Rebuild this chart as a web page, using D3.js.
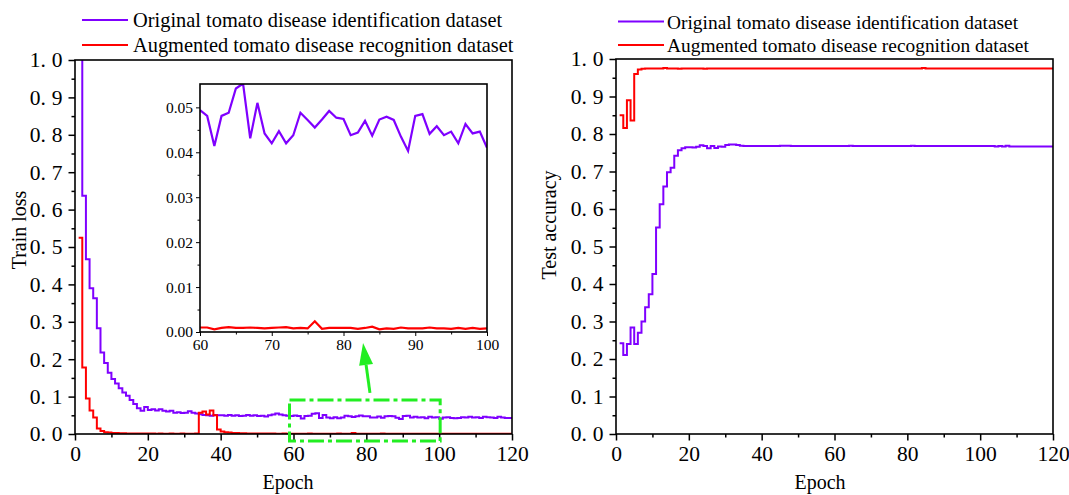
<!DOCTYPE html>
<html><head><meta charset="utf-8">
<script src="https://cdn.jsdelivr.net/npm/d3@7"></script>
<style>
body{margin:0;background:#fff}
svg{display:block}
text{font-family:"Liberation Serif","Times New Roman",serif;fill:#000}
</style>
</head><body>
<svg id="c" width="1069" height="495"></svg>
<script>
// ---------------- data ----------------
const epochs = d3.range(1, 121);

const seriesNames = ["Original tomato disease identification dataset", "Augmented tomato disease recognition dataset"];

const lossOriginal = [
  1.2, 0.637, 0.467, 0.39, 0.363, 0.283, 0.218, 0.19, 0.164, 0.147, 0.135, 0.122, 0.111, 0.102, 0.091, 0.080, 0.069, 0.062, 0.072, 0.064,
  0.066, 0.063, 0.066, 0.062, 0.060, 0.062, 0.057, 0.058, 0.056, 0.057, 0.061, 0.057, 0.055, 0.053, 0.051, 0.050, 0.049, 0.051, 0.050, 0.050,
  0.049, 0.051, 0.049, 0.050, 0.048, 0.049, 0.051, 0.049, 0.050, 0.048, 0.049, 0.047, 0.050, 0.052, 0.055, 0.052, 0.050, 0.049, 0.048, 0.0494,
  0.0481, 0.0414, 0.0481, 0.0488, 0.0542, 0.0553, 0.0431, 0.0510, 0.0442, 0.0420, 0.0447, 0.0420, 0.0438, 0.0488, 0.0472, 0.0455, 0.0473, 0.0492, 0.0477, 0.0474,
  0.0438, 0.0444, 0.0470, 0.0437, 0.0473, 0.0479, 0.0472, 0.0435, 0.0403, 0.0481, 0.0485, 0.0441, 0.0458, 0.0438, 0.0446, 0.0420, 0.0463, 0.0442, 0.0446, 0.0410,
  0.044, 0.045, 0.043, 0.042, 0.043, 0.045, 0.044, 0.046, 0.044, 0.045, 0.043, 0.046, 0.045, 0.044, 0.043, 0.046, 0.044, 0.043, 0.043, 0.042
];

const lossAugmented = [
  0.525, 0.178, 0.095, 0.063, 0.044, 0.015, 0.008, 0.005, 0.004, 0.003, 0.0025, 0.002, 0.0018, 0.0016, 0.0015, 0.0014, 0.0013, 0.0012, 0.0012, 0.0011,
  0.0011, 0.0010, 0.0011, 0.0010, 0.0010, 0.0011, 0.0010, 0.0010, 0.0011, 0.0010, 0.0010, 0.0010, 0.0011, 0.057, 0.060, 0.052, 0.063, 0.050, 0.012, 0.007,
  0.005, 0.004, 0.003, 0.0025, 0.002, 0.0018, 0.0016, 0.0015, 0.0014, 0.0013, 0.0012, 0.0012, 0.0011, 0.0011, 0.0010, 0.0010, 0.0011, 0.0010, 0.0010, 0.0010,
  0.0010, 0.0006, 0.0009, 0.0011, 0.0009, 0.0009, 0.0010, 0.0009, 0.0008, 0.0009, 0.0010, 0.0011, 0.0008, 0.0009, 0.0008, 0.0024, 0.0007, 0.0009, 0.0009, 0.0009,
  0.0009, 0.0007, 0.0009, 0.0012, 0.0006, 0.0008, 0.0007, 0.0010, 0.0008, 0.0008, 0.0008, 0.0010, 0.0008, 0.0008, 0.0007, 0.0009, 0.0007, 0.0009, 0.0007, 0.0008,
  0.0008, 0.0008, 0.0007, 0.0008, 0.0008, 0.0007, 0.0008, 0.0008, 0.0008, 0.0007, 0.0008, 0.0008, 0.0007, 0.0008, 0.0008, 0.0008, 0.0007, 0.0008, 0.0008, 0.0008
];

const accOriginal = [
  0.242, 0.211, 0.240, 0.284, 0.240, 0.270, 0.300, 0.338, 0.373, 0.427, 0.551, 0.613, 0.660, 0.698, 0.710, 0.742, 0.757, 0.762, 0.765, 0.765,
  0.764, 0.766, 0.770, 0.768, 0.762, 0.768, 0.763, 0.767, 0.766, 0.771, 0.772, 0.772, 0.771, 0.769, 0.768, 0.768, 0.768, 0.768, 0.768, 0.768,
  0.768, 0.768, 0.768, 0.768, 0.769, 0.769, 0.769, 0.768, 0.768, 0.768, 0.768, 0.768, 0.768, 0.768, 0.768, 0.768, 0.768, 0.768, 0.768, 0.768,
  0.768, 0.768, 0.768, 0.769, 0.768, 0.768, 0.768, 0.768, 0.768, 0.768, 0.768, 0.768, 0.768, 0.768, 0.768, 0.768, 0.768, 0.768, 0.768, 0.768,
  0.769, 0.768, 0.768, 0.768, 0.768, 0.768, 0.768, 0.768, 0.768, 0.768, 0.768, 0.768, 0.768, 0.768, 0.768, 0.768, 0.768, 0.768, 0.768, 0.768,
  0.768, 0.768, 0.768, 0.767, 0.768, 0.767, 0.769, 0.767, 0.767, 0.767, 0.767, 0.767, 0.767, 0.767, 0.767, 0.767, 0.767, 0.767, 0.767, 0.767
];

const accAugmented = [
  0.850, 0.816, 0.890, 0.836, 0.960, 0.972, 0.974, 0.975, 0.975, 0.975, 0.975, 0.975, 0.976, 0.975, 0.975, 0.975, 0.974, 0.975, 0.975, 0.975,
  0.975, 0.975, 0.975, 0.974, 0.975, 0.975, 0.975, 0.975, 0.975, 0.975, 0.975, 0.975, 0.975, 0.975, 0.975, 0.975, 0.975, 0.975, 0.975, 0.975,
  0.975, 0.975, 0.975, 0.975, 0.975, 0.975, 0.975, 0.975, 0.975, 0.975, 0.975, 0.975, 0.975, 0.975, 0.975, 0.975, 0.975, 0.975, 0.975, 0.975,
  0.975, 0.975, 0.975, 0.975, 0.975, 0.975, 0.975, 0.975, 0.975, 0.975, 0.975, 0.975, 0.975, 0.975, 0.975, 0.975, 0.975, 0.975, 0.975, 0.975,
  0.975, 0.975, 0.975, 0.976, 0.975, 0.975, 0.975, 0.975, 0.975, 0.975, 0.975, 0.975, 0.975, 0.975, 0.975, 0.975, 0.975, 0.975, 0.975, 0.975,
  0.975, 0.975, 0.975, 0.975, 0.975, 0.975, 0.975, 0.975, 0.975, 0.975, 0.975, 0.975, 0.975, 0.975, 0.975, 0.975, 0.975, 0.975, 0.975, 0.975
];

const xTickValues = [0, 20, 40, 60, 80, 100, 120];
const yTickValues = [0, 0.1, 0.2, 0.3, 0.4, 0.5, 0.6, 0.7, 0.8, 0.9, 1.0];
const insetXTicks = [60, 70, 80, 90, 100];
const insetYTicks = [0, 0.01, 0.02, 0.03, 0.04, 0.05];
const insetRange = [60, 100];

// ---------------- styles ----------------
const COL_ORIG = "#7f00ff";
const COL_AUG = "#ff0000";
const GREEN = "#22ee22";

const svg = d3.select("#c");

function splitLabel(sel, fmt, dx) {
  sel.selectAll(".tick text").each(function(d) {
    const s = fmt(d);
    const t = d3.select(this).text(null);
    t.append("tspan").text(s.slice(0, 2));
    t.append("tspan").attr("dx", dx).text(s.slice(2));
  });
}

function panel(cfg) {
  const g = svg.append("g");
  const x = d3.scaleLinear().domain([0, 120]).range([cfg.left, cfg.right]);
  const y = d3.scaleLinear().domain([0, 1]).range([cfg.bottom, cfg.top]);
  const clipId = "clip" + cfg.id;
  svg.append("defs").append("clipPath").attr("id", clipId)
    .append("rect").attr("x", cfg.left).attr("y", cfg.top)
    .attr("width", cfg.right - cfg.left).attr("height", cfg.bottom - cfg.top);

  const line = d3.line().curve(d3.curveStepAfter)
    .x(d => x(d[0])).y(d => y(d[1]));

  const lines = g.append("g").attr("clip-path", `url(#${clipId})`);
  cfg.series.forEach(s => {
    lines.append("path")
      .attr("d", line(epochs.map((e, i) => [e, s.values[i]])))
      .attr("fill", "none").attr("stroke", s.color).attr("stroke-width", 2)
      .attr("stroke-linejoin", "miter");
  });

  // minor ticks
  g.append("g").attr("transform", `translate(${cfg.left},0)`)
    .call(d3.axisLeft(y).tickValues(d3.range(0.05, 1, 0.1)).tickSize(3.5).tickFormat(""))
    .call(a => a.select(".domain").remove())
    .call(a => a.selectAll("line").attr("stroke-width", 1.5));
  g.append("g").attr("transform", `translate(0,${cfg.bottom})`)
    .call(d3.axisBottom(x).tickValues(d3.range(10, 120, 20)).tickSize(3.5).tickFormat(""))
    .call(a => a.select(".domain").remove())
    .call(a => a.selectAll("line").attr("stroke-width", 1.5));

  // major
  const ya = g.append("g").attr("transform", `translate(${cfg.left},0)`)
    .call(d3.axisLeft(y).tickValues(yTickValues).tickSize(6.5).tickPadding(6))
    .call(a => a.select(".domain").remove())
    .call(a => a.selectAll("line").attr("stroke-width", 1.5))
    .call(a => a.selectAll("text").attr("font-size", 21.5).attr("font-family", "Liberation Serif"));
  splitLabel(ya, d3.format(".1f"), 6);

  g.append("g").attr("transform", `translate(0,${cfg.bottom})`)
    .call(d3.axisBottom(x).tickValues(xTickValues).tickSize(6.5).tickPadding(5))
    .call(a => a.select(".domain").remove())
    .call(a => a.selectAll("line").attr("stroke-width", 1.5))
    .call(a => a.selectAll("text").attr("font-size", 21.5).attr("font-family", "Liberation Serif"));

  // frame
  g.append("rect").attr("x", cfg.left).attr("y", cfg.top)
    .attr("width", cfg.right - cfg.left).attr("height", cfg.bottom - cfg.top)
    .attr("fill", "none").attr("stroke", "#000").attr("stroke-width", 1.6);

  // axis titles
  g.append("text").attr("x", cfg.xLabelX).attr("y", 489)
    .attr("text-anchor", "middle").attr("font-size", 20).text("Epoch");
  g.append("text").attr("transform", `translate(${cfg.yLabelX},${cfg.yLabelY}) rotate(-90)`)
    .attr("text-anchor", "middle").attr("font-size", 20).text(cfg.yLabel);

  // legend
  cfg.series.forEach((s, i) => {
    const ly = cfg.legendY[i];
    g.append("line").attr("x1", cfg.legendX).attr("x2", cfg.legendX + 46)
      .attr("y1", ly).attr("y2", ly).attr("stroke", s.color).attr("stroke-width", 2);
    g.append("text").attr("x", cfg.legendX + cfg.legendGap).attr("y", ly + 7)
      .attr("font-size", cfg.legendSize).text(seriesNames[i]);
  });
  return {g, x, y};
}

// ---------------- left: train loss ----------------
const L = panel({
  id: "L", left: 75, right: 512, top: 60, bottom: 434,
  yLabel: "Train loss", yLabelX: 26, yLabelY: 230, xLabelX: 288,
  legendX: 82, legendY: [20, 45], legendGap: 51, legendSize: 20.4,
  series: [{values: lossOriginal, color: COL_ORIG}, {values: lossAugmented, color: COL_AUG}]
});

// green dash-dot box + arrow
L.g.append("rect")
  .attr("x", L.x(insetRange[0]) - 4).attr("y", L.y(0.091))
  .attr("width", L.x(insetRange[1]) - L.x(insetRange[0]) + 5)
  .attr("height", L.y(-0.019) - L.y(0.091))
  .attr("fill", "none").attr("stroke", GREEN).attr("stroke-width", 3)
  .attr("stroke-dasharray", "16,4,4,4");

{
  const x1 = L.x(81), y1 = L.y(0.11), x2 = L.x(79.1), y2 = L.y(0.243);
  const ang = Math.atan2(y2 - y1, x2 - x1);
  const hl = 22, hw = 7;
  const bx = x2 - hl * Math.cos(ang), by = y2 - hl * Math.sin(ang);
  L.g.append("line").attr("x1", x1).attr("y1", y1).attr("x2", bx).attr("y2", by)
    .attr("stroke", GREEN).attr("stroke-width", 3);
  const px = -Math.sin(ang), py = Math.cos(ang);
  L.g.append("path")
    .attr("d", `M${x2},${y2}L${bx + px * hw},${by + py * hw}L${bx - px * hw},${by - py * hw}Z`)
    .attr("fill", GREEN);
}

// inset
{
  const iL = 200, iR = 487, iT = 84, iB = 332;
  const ig = svg.append("g");
  ig.append("rect").attr("x", iL).attr("y", iT).attr("width", iR - iL).attr("height", iB - iT)
    .attr("fill", "#fff");
  const ix = d3.scaleLinear().domain(insetRange).range([iL, iR]);
  const iy = d3.scaleLinear().domain([0, 0.0552]).range([iB, iT]);
  svg.append("defs").append("clipPath").attr("id", "clipI")
    .append("rect").attr("x", iL).attr("y", iT).attr("width", iR - iL).attr("height", iB - iT);
  const ln = d3.line().x(d => ix(d[0])).y(d => iy(d[1]));
  const sub = (vals) => epochs.map((e, i) => [e, vals[i]]).filter(d => d[0] >= insetRange[0] && d[0] <= insetRange[1]);
  const lg = ig.append("g").attr("clip-path", "url(#clipI)");
  lg.append("path").attr("d", ln(sub(lossOriginal))).attr("fill", "none")
    .attr("stroke", COL_ORIG).attr("stroke-width", 2.2).attr("stroke-linejoin", "miter");
  lg.append("path").attr("d", ln(sub(lossAugmented))).attr("fill", "none")
    .attr("stroke", COL_AUG).attr("stroke-width", 2.2);

  ig.append("g").attr("transform", `translate(${iL},0)`)
    .call(d3.axisLeft(iy).tickValues(d3.range(0.005, 0.055, 0.01)).tickSize(2.5).tickFormat(""))
    .call(a => a.select(".domain").remove());
  ig.append("g").attr("transform", `translate(0,${iB})`)
    .call(d3.axisBottom(ix).tickValues([65, 75, 85, 95]).tickSize(2.5).tickFormat(""))
    .call(a => a.select(".domain").remove());
  ig.append("g").attr("transform", `translate(${iL},0)`)
    .call(d3.axisLeft(iy).tickValues(insetYTicks).tickSize(4).tickPadding(3).tickFormat(d3.format(".2f")))
    .call(a => a.select(".domain").remove())
    .call(a => a.selectAll("text").attr("font-size", 15.5).attr("font-family", "Liberation Serif"));
  ig.append("g").attr("transform", `translate(0,${iB})`)
    .call(d3.axisBottom(ix).tickValues(insetXTicks).tickSize(4).tickPadding(3))
    .call(a => a.select(".domain").remove())
    .call(a => a.selectAll("text").attr("font-size", 15.5).attr("font-family", "Liberation Serif"));
  ig.append("rect").attr("x", iL).attr("y", iT).attr("width", iR - iL).attr("height", iB - iT)
    .attr("fill", "none").attr("stroke", "#000").attr("stroke-width", 1.6);
}

// ---------------- right: test accuracy ----------------
panel({
  id: "R", left: 616, right: 1053, top: 59, bottom: 434,
  yLabel: "Test accuracy", yLabelX: 556, yLabelY: 225, xLabelX: 820,
  legendX: 618, legendY: [21.5, 45], legendGap: 49, legendSize: 19.4,
  series: [{values: accOriginal, color: COL_ORIG}, {values: accAugmented, color: COL_AUG}]
});
</script>
</body></html>
